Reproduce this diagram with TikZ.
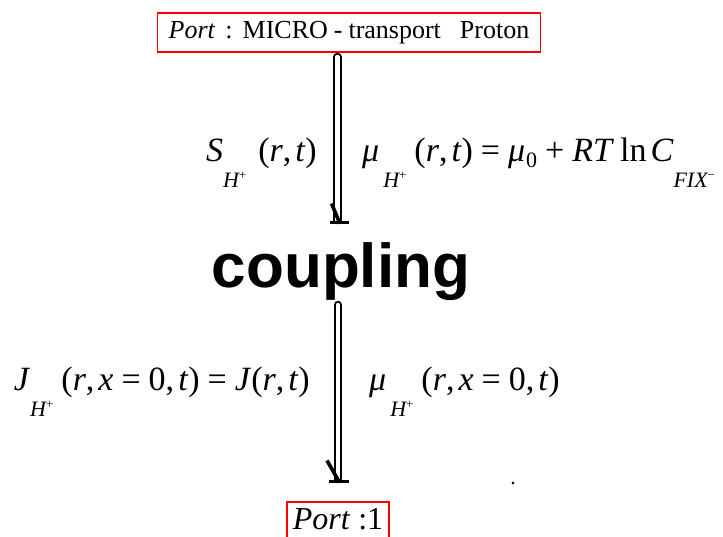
\documentclass[tikz,border=0pt]{standalone}
\usepackage{fontspec}
\setmainfont{Liberation Serif}
\newfontfamily\headfont{Liberation Sans}
\usetikzlibrary{positioning}

% lowered subscripts and ion charges, equation-editor style
\newcommand{\lowsub}[1]{\raisebox{-26pt}{\fontsize{22}{22}\selectfont\itshape #1}}
\newcommand{\midsub}[1]{\raisebox{-6pt}{\fontsize{22}{22}\selectfont #1}}
\newcommand{\ionp}{\raisebox{8pt}{\fontsize{13}{13}\selectfont\upshape +}}
\newcommand{\ionm}{\raisebox{8pt}{\fontsize{13}{13}\selectfont\upshape\char"2212}}
\newcommand{\gap}{\hspace{8pt}}
\newcommand{\chem}{\textit{μ}\hspace{4pt}}

\begin{document}
\begin{tikzpicture}[x=1pt, y=-1pt,
    portbox/.style={draw=red, line width=1.8pt, inner sep=0pt},
    eqn/.style={inner sep=0pt, font=\fontsize{34}{34}\selectfont},
    dblline/.style={double, double distance=4.5pt, line width=2pt, line cap=round},
    foot/.style={line width=3.6pt}
  ]
  \useasboundingbox (0,0) rectangle (723,536);

  \node[portbox, minimum width=383pt, minimum height=39pt, font=\fontsize{26}{26}\selectfont] (micro) at (349,32.5)
    {\textit{Port}\hspace{10pt}:\hspace{10pt}MICRO\hspace{6pt}-\hspace{6pt}transport\hspace{19pt}Proton};
  \node[inner sep=0pt, anchor=base, font=\headfont\bfseries\fontsize{62}{62}\selectfont] (coupling) at (341,287) {coupling};
  \node[portbox, minimum width=102pt, minimum height=40pt, text depth=6pt, anchor=north, font=\fontsize{32}{32}\selectfont] (port1) at (338,501)
    {\textit{Port} :1};

  % micro side
  \node[eqn, anchor=base east] (sflux) at (317,161)
    {\textit{S}\lowsub{H\ionp}\hspace{12pt}(\textit{r},\hspace{4pt}\textit{t})};
  \node[eqn, anchor=base west] (mupot) at (362,161)
    {\chem\lowsub{H\ionp}\gap(\textit{r},\hspace{4pt}\textit{t})\gap=\gap\chem\hspace{-3pt}\midsub{0}\gap+\gap\textit{RT}\hspace{6pt}ln\hspace{4pt}\textit{C}\lowsub{FIX\ionm}};

  % port 1 side
  \node[eqn, anchor=base east] (jflux) at (310,390)
    {\textit{J}\lowsub{H\ionp}\gap(\textit{r},\hspace{4pt}\textit{x}\gap=\gap0,\hspace{4pt}\textit{t})\gap=\gap\textit{J}(\textit{r},\hspace{4pt}\textit{t})};
  \node[eqn, anchor=base west] (mubnd) at (369,390)
    {\chem\lowsub{H\ionp}\gap(\textit{r},\hspace{4pt}\textit{x}\gap=\gap0,\hspace{4pt}\textit{t})};
  \node[inner sep=0pt, anchor=base, font=\fontsize{22}{22}\selectfont] (dot) at (513,484) {.};

  % connectors
  \coordinate (in1) at (337.5,57);
  \coordinate (out1) at (337.5,222.5);
  \coordinate (in2) at (338,305);
  \coordinate (out2) at (338,481.5);

  \draw[dblline] (in1) -- ([yshift=2.5pt]out1);
  \draw[foot] ([xshift=-7.5pt]out1) -- ([xshift=11pt]out1);
  \draw[foot] ([xshift=-6pt,yshift=19pt]out1) -- ([xshift=2pt]out1);

  \draw[dblline] (in2) -- ([yshift=2.5pt]out2);
  \draw[foot] ([xshift=-9pt]out2) -- ([xshift=11pt]out2);
  \draw[foot] ([xshift=-11pt,yshift=21pt]out2) -- ([xshift=1pt]out2);
\end{tikzpicture}
\end{document}
